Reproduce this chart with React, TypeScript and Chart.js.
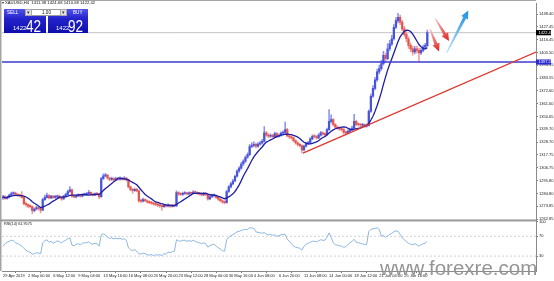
import React, { useEffect, useRef } from "react";
import { Chart, registerables } from "chart.js";

Chart.register(...registerables);

// ---------- data (XAUUSD H4) ----------
const timeLabels = [
  "29 Apr 2019", "2 May 00:00", "6 May 12:00", "9 May 04:00", "13 May 16:00",
  "16 May 08:00", "20 May 20:00", "23 May 12:00", "28 May 00:00", "30 May 16:00",
  "4 Jun 08:00", "6 Jun 20:00", "11 Jun 08:00", "14 Jun 00:00", "18 Jun 12:00",
  "21 Jun 04:00", "25 Jun 16:00",
];
const BARS_PER_LABEL = 12;

const priceTicks = [
  1438.40, 1427.45, 1416.45, 1405.50, 1394.55, 1383.55, 1372.60, 1361.60, 1350.65,
  1339.70, 1328.70, 1317.75, 1306.75, 1295.80, 1284.80, 1273.85, 1262.85,
];
const rsiTicks = [100, 70, 30];
const rsiLevels = [70, 30];

const opens = [
  1281.0, 1282.0, 1280.5, 1281.8, 1283.5, 1284.6, 1285.2, 1283.9, 1283.0, 1282.9,
  1281.5, 1276.0, 1275.2, 1274.0, 1273.6, 1270.0, 1271.5, 1272.8, 1271.8, 1270.6,
  1279.5, 1281.5, 1283.0, 1281.0, 1282.5, 1281.4, 1281.9, 1282.6, 1281.2, 1280.2,
  1282.5, 1284.0, 1286.5, 1288.0, 1282.5, 1281.8, 1282.8, 1283.3, 1282.5, 1283.5,
  1284.1, 1284.5, 1285.8, 1284.0, 1283.4, 1284.5, 1284.2, 1282.0, 1297.5, 1299.8,
  1300.5, 1298.0, 1296.8, 1297.5, 1296.5, 1297.2, 1296.9, 1297.6, 1297.0, 1297.9,
  1296.5, 1290.5, 1288.0, 1287.2, 1288.4, 1287.0, 1278.5, 1278.2, 1279.6, 1278.6,
  1277.5, 1277.0, 1276.6, 1275.8, 1275.4, 1274.8, 1274.4, 1273.5, 1274.6, 1274.0,
  1274.7, 1273.9, 1274.5, 1274.2, 1285.5, 1284.3, 1284.0, 1284.8, 1285.0, 1284.4,
  1285.2, 1284.9, 1286.0, 1285.6, 1284.8, 1284.3, 1283.6, 1284.5, 1284.0, 1280.2,
  1282.0, 1282.9, 1283.0, 1281.5, 1280.0, 1278.6, 1277.5, 1277.0, 1286.5, 1290.5,
  1293.0, 1295.5, 1299.5, 1304.0, 1306.5, 1310.0, 1312.5, 1315.8, 1318.0, 1325.0,
  1326.0, 1326.8, 1325.2, 1327.0, 1328.0, 1329.5, 1336.6, 1334.8, 1333.8, 1334.5,
  1333.5, 1336.0, 1333.8, 1334.5, 1336.5, 1337.0, 1339.5, 1334.0, 1333.2, 1332.4,
  1330.0, 1328.1, 1326.8, 1325.8, 1322.0, 1325.3, 1327.5, 1328.1, 1331.5, 1333.8,
  1333.5, 1332.4, 1334.8, 1336.6, 1335.8, 1335.2, 1339.5, 1346.5, 1348.0, 1343.7,
  1341.5, 1340.8, 1340.0, 1339.5, 1337.0, 1336.6, 1338.0, 1339.5, 1340.8, 1346.5,
  1344.0, 1343.7, 1343.2, 1343.7, 1342.5, 1343.0, 1355.0, 1368.0, 1374.8, 1382.0,
  1388.9, 1391.7, 1396.0, 1403.1, 1400.2, 1408.7, 1412.9, 1417.2, 1427.1, 1432.8,
  1435.6, 1431.4, 1425.7, 1421.0, 1417.2, 1411.6, 1408.5, 1405.9, 1408.7, 1407.3,
  1405.0, 1407.3, 1410.0, 1411.38,
];
const highs = [
  1283.2, 1282.9, 1282.6, 1284.3, 1286.0, 1286.3, 1285.9, 1284.7, 1284.1, 1286.5,
  1282.2, 1277.4, 1276.0, 1275.1, 1274.3, 1272.4, 1273.9, 1273.6, 1272.5, 1280.6,
  1283.5, 1285.2, 1283.8, 1283.3, 1283.0, 1283.1, 1283.4, 1283.5, 1282.0, 1283.2,
  1285.1, 1287.6, 1290.6, 1288.7, 1283.4, 1283.6, 1284.4, 1284.0, 1284.3, 1285.2,
  1285.6, 1287.4, 1286.3, 1285.0, 1285.3, 1285.6, 1284.8, 1298.6, 1301.6, 1302.0,
  1301.2, 1298.7, 1298.9, 1298.3, 1298.8, 1298.1, 1299.0, 1298.4, 1299.2, 1298.6,
  1297.2, 1291.3, 1289.1, 1289.5, 1289.2, 1287.6, 1279.8, 1280.9, 1280.3, 1279.4,
  1278.4, 1278.1, 1277.3, 1276.9, 1276.2, 1275.7, 1275.1, 1275.8, 1275.4, 1275.9,
  1275.5, 1275.6, 1275.3, 1287.0, 1286.4, 1285.3, 1285.9, 1286.4, 1285.8, 1286.3,
  1286.0, 1287.3, 1286.9, 1286.2, 1285.6, 1285.1, 1285.8, 1285.7, 1284.6, 1283.1,
  1284.3, 1284.2, 1283.7, 1282.3, 1280.8, 1279.4, 1278.6, 1287.4, 1291.6, 1294.3,
  1296.8, 1300.6, 1305.3, 1307.9, 1311.4, 1313.8, 1317.1, 1319.6, 1326.9, 1328.3,
  1328.9, 1327.9, 1328.4, 1329.6, 1331.2, 1342.0, 1337.9, 1336.0, 1335.9, 1335.4,
  1337.4, 1336.9, 1335.8, 1337.6, 1338.4, 1346.0, 1340.6, 1335.3, 1334.1, 1333.0,
  1330.8, 1329.0, 1327.7, 1326.5, 1326.2, 1328.6, 1329.5, 1332.7, 1335.0, 1335.1,
  1334.3, 1336.0, 1337.9, 1337.5, 1336.7, 1340.8, 1356.5, 1352.0, 1348.9, 1344.6,
  1342.7, 1341.9, 1341.2, 1340.3, 1338.2, 1339.3, 1340.7, 1342.4, 1352.5, 1347.6,
  1345.2, 1344.9, 1344.8, 1344.5, 1344.4, 1356.4, 1369.8, 1377.2, 1384.1, 1391.3,
  1394.6, 1398.8, 1406.5, 1405.0, 1413.0, 1415.8, 1420.1, 1429.4, 1435.4, 1439.0,
  1437.5, 1433.0, 1427.8, 1423.4, 1418.9, 1413.8, 1411.0, 1410.8, 1410.9, 1409.2,
  1409.0, 1411.7, 1413.2, 1424.68,
];
const lows = [
  1279.8, 1279.6, 1279.9, 1281.0, 1283.0, 1283.9, 1283.1, 1282.2, 1282.0, 1280.8,
  1275.0, 1273.8, 1272.6, 1272.2, 1267.5, 1268.9, 1270.7, 1270.5, 1268.2, 1270.0,
  1278.8, 1280.7, 1280.2, 1280.4, 1280.6, 1280.5, 1281.0, 1280.4, 1278.9, 1279.6,
  1281.9, 1283.5, 1285.8, 1281.6, 1280.9, 1281.0, 1282.1, 1281.6, 1281.9, 1282.9,
  1283.2, 1283.9, 1283.3, 1282.6, 1282.9, 1283.3, 1280.4, 1281.5, 1296.8, 1298.9,
  1297.1, 1295.6, 1296.0, 1295.7, 1295.9, 1296.0, 1296.2, 1296.1, 1296.4, 1295.5,
  1289.6, 1286.9, 1284.9, 1286.5, 1286.1, 1277.4, 1277.0, 1277.6, 1277.7, 1276.6,
  1276.0, 1275.5, 1274.7, 1274.3, 1273.6, 1272.8, 1270.2, 1272.9, 1273.1, 1273.3,
  1272.8, 1273.0, 1273.2, 1273.8, 1283.4, 1282.9, 1283.2, 1283.9, 1283.5, 1283.6,
  1284.0, 1284.2, 1284.7, 1283.9, 1283.4, 1282.7, 1282.9, 1283.0, 1279.1, 1279.5,
  1281.2, 1281.9, 1280.6, 1278.9, 1277.5, 1276.2, 1275.8, 1276.6, 1285.7, 1289.6,
  1292.1, 1294.8, 1298.7, 1302.9, 1305.6, 1308.9, 1311.4, 1314.7, 1317.2, 1323.9,
  1324.7, 1323.8, 1324.3, 1326.1, 1327.0, 1328.8, 1333.6, 1332.5, 1332.7, 1332.2,
  1332.8, 1332.6, 1332.9, 1333.7, 1335.6, 1336.2, 1333.1, 1332.0, 1331.2, 1328.9,
  1327.0, 1325.6, 1324.6, 1319.6, 1321.2, 1324.5, 1326.6, 1327.3, 1330.6, 1332.4,
  1331.3, 1331.6, 1333.9, 1334.6, 1334.1, 1334.5, 1338.8, 1345.1, 1342.4, 1340.3,
  1339.6, 1338.7, 1338.1, 1335.6, 1335.0, 1335.7, 1337.2, 1338.6, 1340.1, 1342.9,
  1342.5, 1341.9, 1342.3, 1341.3, 1341.5, 1342.3, 1354.1, 1366.9, 1373.5, 1380.8,
  1387.4, 1390.2, 1394.7, 1397.6, 1399.1, 1406.9, 1411.3, 1416.0, 1425.9, 1430.7,
  1429.2, 1423.9, 1419.2, 1414.6, 1409.0, 1406.2, 1403.2, 1404.3, 1405.1, 1397.5,
  1403.8, 1406.1, 1408.7, 1410.68,
];
const closes = [
  1282.0, 1280.5, 1281.8, 1283.5, 1284.6, 1285.2, 1283.9, 1283.0, 1282.9, 1281.5,
  1276.0, 1275.2, 1274.0, 1273.6, 1270.0, 1271.5, 1272.8, 1271.8, 1270.6, 1279.5,
  1281.5, 1283.0, 1281.0, 1282.5, 1281.4, 1281.9, 1282.6, 1281.2, 1280.2, 1282.5,
  1284.0, 1286.5, 1288.0, 1282.5, 1281.8, 1282.8, 1283.3, 1282.5, 1283.5, 1284.1,
  1284.5, 1285.8, 1284.0, 1283.4, 1284.5, 1284.2, 1282.0, 1297.5, 1299.8, 1300.5,
  1298.0, 1296.8, 1297.5, 1296.5, 1297.2, 1296.9, 1297.6, 1297.0, 1297.9, 1296.5,
  1290.5, 1288.0, 1287.2, 1288.4, 1287.0, 1278.5, 1278.2, 1279.6, 1278.6, 1277.5,
  1277.0, 1276.6, 1275.8, 1275.4, 1274.8, 1274.4, 1273.5, 1274.6, 1274.0, 1274.7,
  1273.9, 1274.5, 1274.2, 1285.5, 1284.3, 1284.0, 1284.8, 1285.0, 1284.4, 1285.2,
  1284.9, 1286.0, 1285.6, 1284.8, 1284.3, 1283.6, 1284.5, 1284.0, 1280.2, 1282.0,
  1282.9, 1283.0, 1281.5, 1280.0, 1278.6, 1277.5, 1277.0, 1286.5, 1290.5, 1293.0,
  1295.5, 1299.5, 1304.0, 1306.5, 1310.0, 1312.5, 1315.8, 1318.0, 1325.0, 1326.0,
  1326.8, 1325.2, 1327.0, 1328.0, 1329.5, 1336.6, 1334.8, 1333.8, 1334.5, 1333.5,
  1336.0, 1333.8, 1334.5, 1336.5, 1337.0, 1339.5, 1334.0, 1333.2, 1332.4, 1330.0,
  1328.1, 1326.8, 1325.8, 1322.0, 1325.3, 1327.5, 1328.1, 1331.5, 1333.8, 1333.5,
  1332.4, 1334.8, 1336.6, 1335.8, 1335.2, 1339.5, 1346.5, 1348.0, 1343.7, 1341.5,
  1340.8, 1340.0, 1339.5, 1337.0, 1336.6, 1338.0, 1339.5, 1340.8, 1346.5, 1344.0,
  1343.7, 1343.2, 1343.7, 1342.5, 1343.0, 1355.0, 1368.0, 1374.8, 1382.0, 1388.9,
  1391.7, 1396.0, 1403.1, 1400.2, 1408.7, 1412.9, 1417.2, 1427.1, 1432.8, 1435.6,
  1431.4, 1425.7, 1421.0, 1417.2, 1411.6, 1408.5, 1405.9, 1408.7, 1407.3, 1405.0,
  1407.3, 1410.0, 1411.6, 1422.42,
];
const maValues = [
  1282.0, 1281.3, 1281.4, 1282.0, 1282.5, 1282.9, 1283.1, 1283.1, 1283.0, 1283.0,
  1282.5, 1281.8, 1280.7, 1279.5, 1277.8, 1276.4, 1275.3, 1274.0, 1272.8, 1273.2,
  1273.9, 1274.9, 1275.7, 1277.1, 1278.2, 1279.2, 1280.4, 1281.6, 1281.7, 1281.8,
  1281.9, 1282.5, 1283.1, 1283.3, 1283.3, 1283.3, 1283.5, 1283.8, 1283.9, 1283.9,
  1283.7, 1283.4, 1283.6, 1283.8, 1284.0, 1284.1, 1284.0, 1285.6, 1287.3, 1289.1,
  1290.4, 1291.9, 1293.4, 1294.8, 1296.2, 1297.9, 1297.9, 1297.6, 1297.3, 1297.1,
  1296.4, 1295.3, 1294.3, 1293.3, 1292.2, 1290.1, 1288.0, 1286.0, 1284.0, 1282.6,
  1281.3, 1280.2, 1278.8, 1277.5, 1277.1, 1276.6, 1276.0, 1275.5, 1275.1, 1274.9,
  1274.6, 1274.4, 1274.3, 1275.5, 1276.6, 1277.7, 1278.9, 1280.1, 1281.2, 1282.4,
  1283.6, 1284.9, 1284.9, 1285.0, 1285.0, 1284.9, 1284.8, 1284.8, 1284.2, 1283.9,
  1283.5, 1283.3, 1282.9, 1282.4, 1281.9, 1281.1, 1280.3, 1281.0, 1281.9, 1283.1,
  1284.5, 1286.5, 1289.1, 1292.2, 1295.8, 1299.8, 1303.0, 1306.1, 1309.6, 1313.0,
  1316.1, 1318.4, 1320.7, 1322.7, 1324.6, 1326.9, 1328.8, 1329.7, 1330.7, 1331.4,
  1332.6, 1333.4, 1334.1, 1334.9, 1334.9, 1335.5, 1335.5, 1335.3, 1335.2, 1334.5,
  1333.9, 1333.1, 1331.9, 1330.2, 1328.6, 1327.9, 1327.3, 1327.2, 1327.7, 1328.3,
  1328.9, 1329.9, 1331.5, 1332.7, 1333.5, 1334.8, 1336.5, 1338.0, 1339.2, 1340.2,
  1340.8, 1341.2, 1341.6, 1341.8, 1341.5, 1340.6, 1339.6, 1339.3, 1339.9, 1340.2,
  1340.6, 1341.0, 1341.8, 1342.4, 1343.0, 1344.7, 1347.7, 1350.9, 1355.1, 1360.1,
  1365.5, 1371.3, 1378.1, 1384.4, 1390.4, 1395.4, 1400.1, 1405.1, 1410.0, 1414.8,
  1418.8, 1421.3, 1423.6, 1424.5, 1424.4, 1423.4, 1421.1, 1418.4, 1415.3, 1412.3,
  1410.3, 1409.1, 1408.4, 1409.6,
];
const rsiValues = [
  50, 55, 58, 60, 62, 61, 57, 55, 53, 50,
  46, 42, 39, 38, 34, 35, 37, 36, 35, 57,
  61, 63, 58, 60, 56, 58, 61, 59, 57, 60,
  62, 65, 67, 52, 51, 54, 55, 53, 56, 57,
  57, 59, 55, 54, 56, 55, 50, 73, 75, 73,
  68, 66, 67, 65, 66, 65, 66, 64, 65, 62,
  47, 43, 41, 43, 40, 35, 34, 36, 35, 33,
  32, 33, 31, 33, 32, 33, 31, 35, 34, 38,
  37, 39, 40, 63, 61, 60, 62, 62, 60, 61,
  60, 62, 60, 58, 57, 55, 57, 55, 48, 51,
  53, 54, 50, 47, 44, 41, 40, 63, 68, 71,
  73, 76, 79, 80, 82, 83, 84, 84, 87, 87,
  86, 79, 78, 77, 76, 78, 74, 73, 74, 72,
  73, 70, 71, 73, 74, 74, 64, 60, 55, 50,
  48, 47, 46, 42, 50, 54, 56, 58, 60, 60,
  59, 61, 63, 62, 62, 68, 77, 68, 57, 53,
  52, 51, 50, 48, 49, 53, 57, 60, 64, 58,
  57, 56, 55, 53, 54, 80, 84, 85, 86, 87,
  84, 70, 72, 68, 71, 74, 76, 79, 81, 80,
  74, 67, 63, 59, 56, 54, 53, 55, 53, 50,
  53, 55, 56, 60,
];

const bidPrice = 1422.42;
const levelPrice = 1397.27;
const trendStart = { x: 143.5, y: 1319.4 };
const trendEnd = { x: 255, y: 1405.9 };
// hand-drawn arrows, in (bar index, price)
const arrowStarts = [[204.3, 1425.4], [206.9, 1434.3], [212.3, 1405.3]];
const arrowEnds = [[208.6, 1406.3], [213.4, 1415.2], [222.6, 1441.3]];
const arrowColors = [["#f6c4c4", "#e0201c"], ["#f6c4c4", "#e0201c"], ["#bfe4fb", "#1c8fe0"]];

// ---------- layout constants ----------
const X_MIN = -0.48;
const X_MAX = 255;
const PRICE_MIN = 1261.7;
const PRICE_MAX = 1447.48;
const FONT = '"Liberation Sans", Arial, sans-serif';

const UP_BODY = "#4a54da";
const DOWN_BODY = "#e4544f";
const UP_WICK = "#8a92ea";
const DOWN_WICK = "#f09a96";

function drawArrow(ctx: CanvasRenderingContext2D, x1: number, y1: number, x2: number, y2: number, c1: string, c2: string) {
  const dx = x2 - x1, dy = y2 - y1;
  const len = Math.hypot(dx, dy);
  const ux = dx / len, uy = dy / len;
  const nx = -uy, ny = ux;
  const headLen = 8, headW = 3.8, neckW = 1.6, tailW = 0.6;
  const hx = x2 - ux * headLen, hy = y2 - uy * headLen;
  const g = ctx.createLinearGradient(x1, y1, x2, y2);
  g.addColorStop(0, c1);
  g.addColorStop(1, c2);
  ctx.fillStyle = g;
  ctx.beginPath();
  ctx.moveTo(x1 + nx * tailW, y1 + ny * tailW);
  ctx.lineTo(hx + nx * neckW, hy + ny * neckW);
  ctx.lineTo(hx + nx * headW, hy + ny * headW);
  ctx.lineTo(x2, y2);
  ctx.lineTo(hx - nx * headW, hy - ny * headW);
  ctx.lineTo(hx - nx * neckW, hy - ny * neckW);
  ctx.lineTo(x1 - nx * tailW, y1 - ny * tailW);
  ctx.closePath();
  ctx.fill();
}

function Tiny(props: { x: number; y: number; size: number; color?: string; sx?: number; weight?: number; children: React.ReactNode }) {
  const { x, y, size, color = "#111", sx = 1, weight = 400, children } = props;
  return (
    <div
      style={{
        position: "absolute", left: x, top: y, fontFamily: FONT, fontSize: size * 4,
        lineHeight: `${size * 4}px`, color, fontWeight: weight, whiteSpace: "nowrap",
        transform: `scale(${0.25 * sx}, 0.25)`, transformOrigin: "0 0",
      }}
    >
      {children}
    </div>
  );
}

export default function App() {
  const ref = useRef<HTMLCanvasElement>(null);

  useEffect(() => {
    const canvas = ref.current;
    if (!canvas) return;
    const idx = closes.map((_, i) => i);
    const isUp = (i: number) => closes[i] >= opens[i];

    const overlay = {
      id: "mtOverlay",
      afterDraw(chart: any) {
        const { ctx, chartArea, scales } = chart;
        const y = scales.y;
        const x = scales.x;
        ctx.save();
        // frames
        ctx.fillStyle = "#a4a4a4";
        ctx.fillRect(0, 0, 1.5, chartArea.bottom);
        ctx.fillRect(0, 0, chartArea.right, 1);
        ctx.fillStyle = "#9a9a9a";
        ctx.fillRect(0, y.bottom - 1, chartArea.right, 2);
        // arrows
        for (let k = 0; k < arrowStarts.length; k++) {
          drawArrow(
            ctx,
            x.getPixelForValue(arrowStarts[k][0]), y.getPixelForValue(arrowStarts[k][1]),
            x.getPixelForValue(arrowEnds[k][0]), y.getPixelForValue(arrowEnds[k][1]),
            arrowColors[k][0], arrowColors[k][1]
          );
        }
        // price markers on the axis
        const markers: [number, string][] = [[bidPrice, "#000000"], [levelPrice, "#2b2bd0"]];
        ctx.font = `4px ${FONT}`;
        ctx.textBaseline = "middle";
        ctx.textAlign = "left";
        for (const [v, bg] of markers) {
          const py = y.getPixelForValue(v);
          ctx.fillStyle = bg;
          ctx.fillRect(chartArea.right, py - 2.6, 15, 5.2);
          ctx.fillStyle = "#ffffff";
          ctx.fillText(v.toFixed(2), chartArea.right + 2.5, py + 0.2);
        }
        ctx.restore();
      },
    };

    const chart = new Chart(canvas, {
      type: "bar",
      data: {
        datasets: [
          {
            type: "line",
            data: [{ x: X_MIN, y: bidPrice }, { x: X_MAX, y: bidPrice }],
            borderColor: "#c4c4c4", borderWidth: 1, pointRadius: 0, yAxisID: "y", order: 9,
          } as any,
          {
            type: "line",
            data: [{ x: X_MIN, y: rsiLevels[0] }, { x: X_MAX, y: rsiLevels[0] }],
            borderColor: "#d2d2d2", borderWidth: 1, borderDash: [2, 2], pointRadius: 0, yAxisID: "yRsi", order: 9,
          } as any,
          {
            type: "line",
            data: [{ x: X_MIN, y: rsiLevels[1] }, { x: X_MAX, y: rsiLevels[1] }],
            borderColor: "#d2d2d2", borderWidth: 1, borderDash: [2, 2], pointRadius: 0, yAxisID: "yRsi", order: 9,
          } as any,
          {
            type: "bar",
            data: idx.map((i) => ({ x: i, y: [lows[i], highs[i]] })),
            backgroundColor: idx.map((i) => (isUp(i) ? UP_WICK : DOWN_WICK)),
            barThickness: 0.9, grouped: false, yAxisID: "y", order: 8,
          } as any,
          {
            type: "bar",
            data: idx.map((i) => ({ x: i, y: [opens[i], closes[i]] })),
            backgroundColor: idx.map((i) => (isUp(i) ? UP_BODY : DOWN_BODY)),
            barThickness: 1.6, minBarLength: 1, grouped: false, yAxisID: "y", order: 7,
          } as any,
          {
            type: "line",
            data: maValues.map((v, i) => ({ x: i, y: v })),
            borderColor: "#1e1ea0", borderWidth: 1.3, pointRadius: 0, tension: 0, yAxisID: "y", order: 3,
          } as any,
          {
            type: "line",
            data: [{ x: X_MIN, y: levelPrice }, { x: X_MAX, y: levelPrice }],
            borderColor: "#3b3bd4", borderWidth: 1.4, pointRadius: 0, yAxisID: "y", order: 2,
          } as any,
          {
            type: "line",
            data: [trendStart, trendEnd],
            borderColor: "#e0382f", borderWidth: 1.3, pointRadius: 0, yAxisID: "y", order: 1,
          } as any,
          {
            type: "line",
            data: rsiValues.map((v, i) => ({ x: i, y: v })),
            borderColor: "#8cb6e2", borderWidth: 1, pointRadius: 0, tension: 0, yAxisID: "yRsi", order: 4,
          } as any,
        ],
      },
      options: {
        responsive: false,
        animation: false,
        devicePixelRatio: 1,
        layout: { padding: { left: 2, top: 1, right: 0, bottom: 0 } },
        plugins: { legend: { display: false }, tooltip: { enabled: false } },
        scales: {
          x: {
            type: "linear", axis: "x", min: X_MIN, max: X_MAX, offset: false, position: "bottom",
            afterBuildTicks: (s: any) => {
              s.ticks = timeLabels.map((_, k) => ({ value: k * BARS_PER_LABEL }));
            },
            afterFit: (s: any) => { s.height = 10; },
            grid: { drawOnChartArea: false, drawTicks: true, tickLength: 2, color: "#7a7a7a" },
            border: { display: true, color: "#8a8a8a", width: 1 },
            ticks: {
              autoSkip: false, maxRotation: 0, minRotation: 0, align: "start", padding: 0,
              font: { size: 4, family: FONT }, color: "#222",
              callback: (v: any) => timeLabels[Math.round(Number(v) / BARS_PER_LABEL)] ?? "",
            },
          },
          y: {
            type: "linear", axis: "y", position: "right", stack: "panes", stackWeight: 219,
            min: PRICE_MIN, max: PRICE_MAX,
            afterBuildTicks: (s: any) => { s.ticks = priceTicks.map((v) => ({ value: v })); },
            afterFit: (s: any) => { s.width = 18; },
            grid: { drawOnChartArea: false, drawTicks: true, tickLength: 2, color: "#7a7a7a" },
            border: { display: true, color: "#8a8a8a", width: 1 },
            ticks: {
              autoSkip: false, padding: 1, font: { size: 4, family: FONT }, color: "#222",
              callback: (v: any) => Number(v).toFixed(2),
            },
          },
          yRsi: {
            type: "linear", axis: "y", position: "right", stack: "panes", stackWeight: 51,
            min: 0, max: 102,
            afterBuildTicks: (s: any) => { s.ticks = rsiTicks.map((v) => ({ value: v })); },
            afterFit: (s: any) => { s.width = 18; },
            grid: { drawOnChartArea: false, drawTicks: true, tickLength: 2, color: "#7a7a7a" },
            border: { display: true, color: "#8a8a8a", width: 1 },
            ticks: {
              autoSkip: false, padding: 1, font: { size: 4, family: FONT }, color: "#222",
              callback: (v: any) => String(v),
            },
          },
        },
      } as any,
      plugins: [overlay],
    });
    return () => chart.destroy();
  }, []);

  const blue = "linear-gradient(to bottom, #5454ea 0%, #2323cc 40%, #0e0eae 100%)";

  return (
    <div style={{ position: "absolute", left: 0, top: 0, width: 554, height: 281, background: "#fff", overflow: "hidden" }}>
      <canvas ref={ref} width={554} height={281} style={{ position: "absolute", left: 0, top: 0, width: 554, height: 281 }} />

      {/* header */}
      <div style={{ position: "absolute", left: 1.5, top: 2, width: 0, height: 0, borderLeft: "1.5px solid transparent", borderRight: "1.5px solid transparent", borderTop: "2.5px solid #222" }} />
      <Tiny x={5} y={0.9} size={4.2}>XAUUSD,H4&nbsp;&nbsp;1411.38 1424.68 1410.68 1422.42</Tiny>

      {/* one-click trading panel */}
      <div style={{ position: "absolute", left: 4, top: 9, width: 42, height: 24, background: blue }} />
      <div style={{ position: "absolute", left: 48, top: 9, width: 40, height: 24, background: blue }} />
      <div style={{ position: "absolute", left: 25, top: 9, width: 42, height: 7, background: "#ffffff", boxSizing: "border-box", border: "0.5px solid #9c9c9c" }} />
      <div style={{ position: "absolute", left: 25, top: 9, width: 7, height: 7, background: "#e2e2e2", boxSizing: "border-box", border: "0.5px solid #a8a8a8" }} />
      <div style={{ position: "absolute", left: 60, top: 9, width: 7, height: 7, background: "#e2e2e2", boxSizing: "border-box", border: "0.5px solid #a8a8a8" }} />
      <Tiny x={27} y={10.2} size={4.5} color="#333">▾</Tiny>
      <Tiny x={62} y={10.2} size={4.5} color="#333">▾</Tiny>
      <Tiny x={7} y={10.4} size={4.6} color="#ffffff">SELL</Tiny>
      <Tiny x={42} y={10.4} size={4.6} color="#111">1.00</Tiny>
      <Tiny x={73} y={10.4} size={4.6} color="#ffffff">BUY</Tiny>
      <Tiny x={12.5} y={25.4} size={6} color="#ffffff">1422</Tiny>
      <div style={{ position: "absolute", left: 25.5, top: 18.1, fontFamily: FONT, fontSize: 17, lineHeight: "17px", color: "#fff", transform: "scaleX(0.8)", transformOrigin: "0 0" }}>42</div>
      <Tiny x={55.5} y={25.4} size={6} color="#ffffff">1422</Tiny>
      <div style={{ position: "absolute", left: 68, top: 18.1, fontFamily: FONT, fontSize: 17, lineHeight: "17px", color: "#fff", transform: "scaleX(0.8)", transformOrigin: "0 0" }}>92</div>

      {/* indicator caption */}
      <Tiny x={4} y={221.8} size={3.8}>RSI(14) 61.9575</Tiny>

      {/* watermark */}
      <div style={{ position: "absolute", left: 380, top: 258, fontFamily: FONT, fontSize: 20.5, lineHeight: "20px", color: "#959595", whiteSpace: "nowrap" }}>www.forexre.com</div>
    </div>
  );
}
